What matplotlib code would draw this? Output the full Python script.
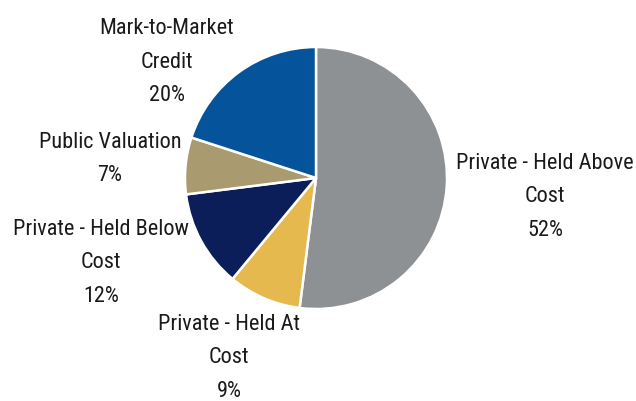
import matplotlib.pyplot as plt
from matplotlib import font_manager

labels = ["Private - Held Above\nCost", "Private - Held At\nCost",
          "Private - Held Below\nCost", "Public Valuation", "Mark-to-Market\nCredit"]
shares = [52, 9, 12, 7, 20]
colors = ["#8e9194", "#e6b94f", "#0b1e59", "#a99a6f", "#05539a"]

# label anchor points in pixel space (y measured from bottom)
label_pos = [(545, 205), (229, 44), (101, 139), (110, 243), (167, 340)]

names = {f.name for f in font_manager.fontManager.ttflist}
family = "Liberation Sans"
for cand in ["Liberation Sans Narrow", "Roboto Condensed", "DejaVu Sans Condensed", "Roboto"]:
    if cand in names:
        family = cand
        break
plt.rcParams["font.family"] = [family, "DejaVu Sans"]

W, H = 636, 402
fig = plt.figure(figsize=(W / 100, H / 100), dpi=100)
ax = fig.add_axes([0, 0, 1, 1])

ax.pie(shares, colors=colors, startangle=90, counterclock=False,
       center=(316, 223), radius=131,
       wedgeprops=dict(edgecolor="white", linewidth=1.8))

for lab, val, (x, y) in zip(labels, shares, label_pos):
    ax.text(x, y, f"{lab}\n{val}%", ha="center", va="center",
            fontsize=16, color="#1a1a1a", linespacing=1.78)

ax.set_xlim(0, W)
ax.set_ylim(0, H)
ax.set_aspect("equal")
ax.axis("off")

fig.savefig("out.png", dpi=100)
